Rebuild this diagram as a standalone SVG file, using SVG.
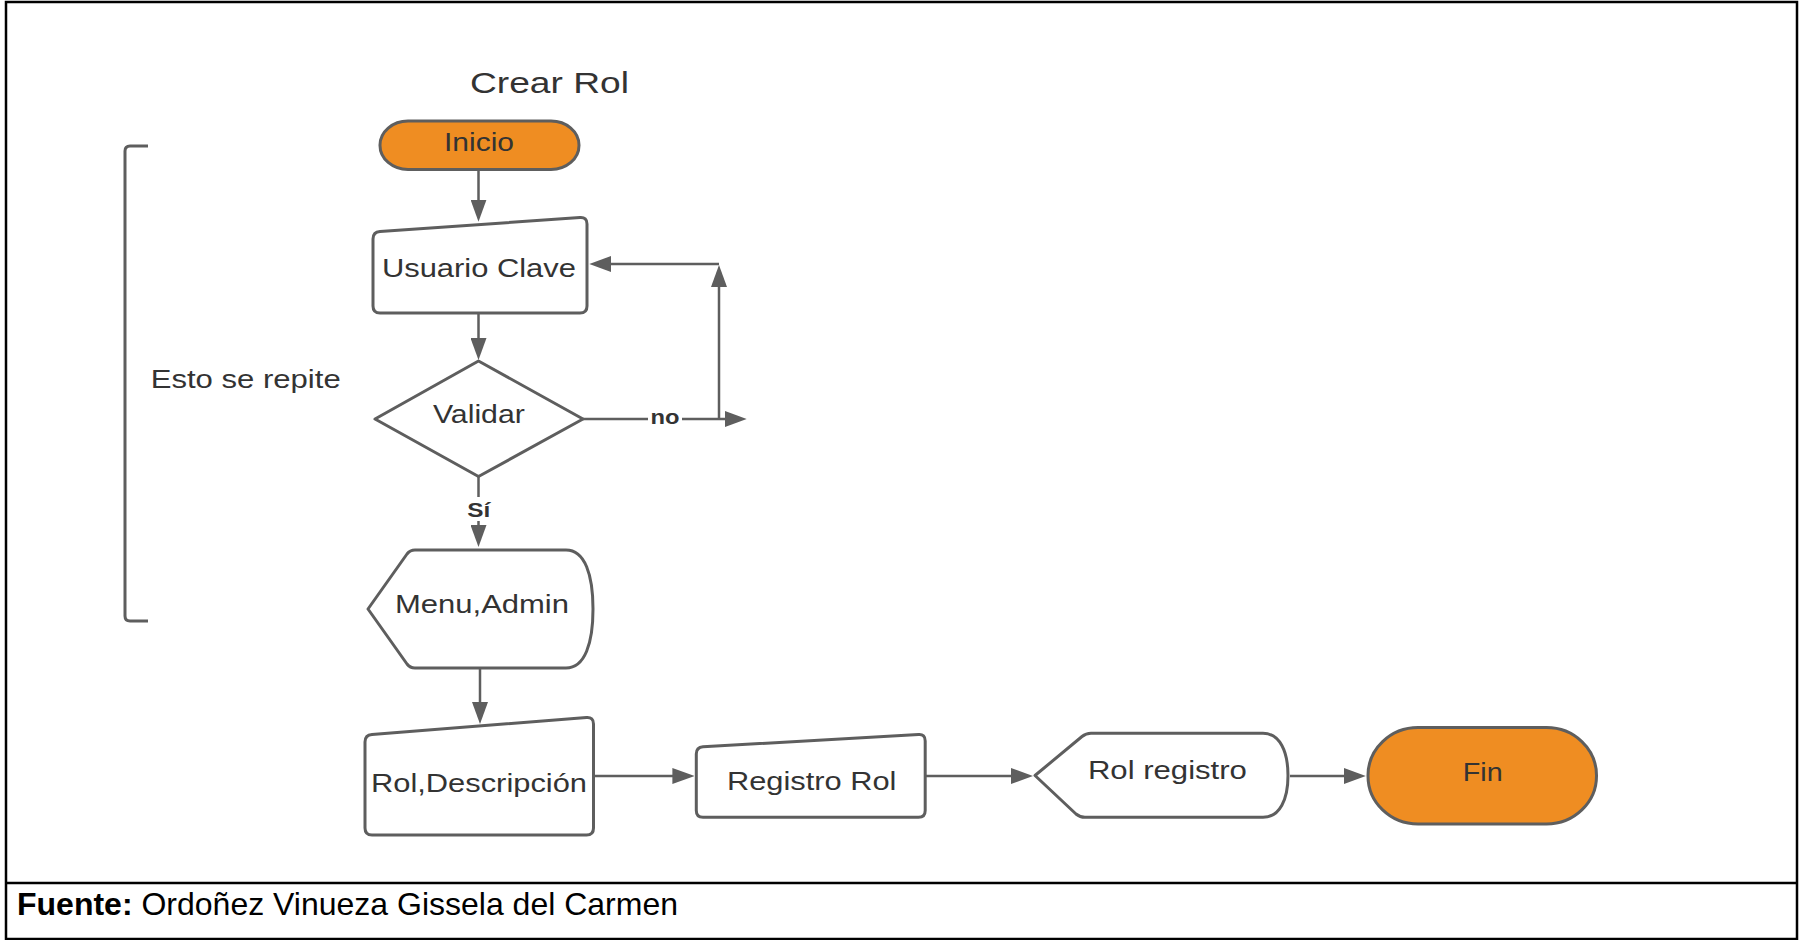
<svg xmlns="http://www.w3.org/2000/svg" width="1801" height="940" viewBox="0 0 1801 940">
<style>
.shape{fill:#ffffff;stroke:#5e5e5e;stroke-width:3;stroke-linejoin:round}
.term{fill:#ef8d22;stroke:#5e5e5e;stroke-width:3}
.lbl{font-family:"Liberation Sans",Arial,sans-serif;font-size:26px;fill:#333333;text-anchor:middle}
.edge{fill:none;stroke:#5e5e5e;stroke-width:2.5}
.elbl{font-family:"Liberation Sans",Arial,sans-serif;font-size:21px;font-weight:bold;fill:#333333;text-anchor:middle}
.frame{fill:none;stroke:#000000;stroke-width:2.5}
</style>
<defs>
<marker id="arr" markerUnits="userSpaceOnUse" markerWidth="22" markerHeight="16" refX="12" refY="8" orient="auto">
<path d="M0,0 L22,8 L0,16 Z" fill="#5e5e5e"/>
</marker>
</defs>
<rect x="0" y="0" width="1801" height="940" fill="#ffffff"/>
<g id="frame">
<rect class="frame" x="6" y="2" width="1791" height="937"/>
<line class="frame" x1="6" y1="883" x2="1797" y2="883"/>
</g>
<g id="footer">
<text x="17" y="915" font-family="'Liberation Sans',Arial,sans-serif" font-size="32" fill="#000000"><tspan font-weight="bold">Fuente:</tspan> Ordoñez Vinueza Gissela del Carmen</text>
</g>
<g id="title">
<text x="470" y="92.7" font-family="'Liberation Sans',Arial,sans-serif" font-size="29" fill="#333333" textLength="159" lengthAdjust="spacingAndGlyphs">Crear Rol</text>
</g>
<g id="bracket">
<path d="M148,146 L130,146 Q125,146 125,151 L125,616 Q125,621 130,621 L148,621" fill="none" stroke="#5e5e5e" stroke-width="3"/>
<text x="150.7" y="388.3" font-family="'Liberation Sans',Arial,sans-serif" font-size="25" fill="#333333" textLength="190" lengthAdjust="spacingAndGlyphs">Esto se repite</text>
</g>
<g id="connectors">
<path class="edge" d="M478.5,170 L478.5,211.7" marker-end="url(#arr)"/>
<path class="edge" d="M478.5,313 L478.5,350" marker-end="url(#arr)"/>
<path class="edge" d="M583,419 L736.7,419" marker-end="url(#arr)"/>
<path class="edge" d="M719,419 L719,275" marker-end="url(#arr)"/>
<path class="edge" d="M719,264 L599.3,264" marker-end="url(#arr)"/>
<path class="edge" d="M478.5,476.5 L478.5,537" marker-end="url(#arr)"/>
<path class="edge" d="M480,668 L480,714" marker-end="url(#arr)"/>
<path class="edge" d="M593.5,776 L684.4,776" marker-end="url(#arr)"/>
<path class="edge" d="M925.2,776 L1023,776" marker-end="url(#arr)"/>
<path class="edge" d="M1290,776 L1355.8,776" marker-end="url(#arr)"/>
<rect x="648" y="406" width="34" height="22" fill="#ffffff"/>
<text class="elbl" x="665" y="423.5" textLength="29" lengthAdjust="spacingAndGlyphs">no</text>
<rect x="465" y="497" width="28" height="24" fill="#ffffff"/>
<text class="elbl" x="478.7" y="516.7" textLength="23" lengthAdjust="spacingAndGlyphs">Sí</text>
</g>
<g id="inicio">
<rect class="term" x="380" y="121" width="199" height="48.5" rx="28" ry="24"/>
<text class="lbl" x="479" y="150.7" textLength="70" lengthAdjust="spacingAndGlyphs">Inicio</text>
</g>
<g id="usuario-clave">
<path class="shape" d="M373,239 Q373,232 380,231.5 L580,217.5 Q587,217 587,224 L587,306 Q587,313 580,313 L380,313 Q373,313 373,306 Z"/>
<text class="lbl" x="478.9" y="276.7" textLength="194" lengthAdjust="spacingAndGlyphs">Usuario Clave</text>
</g>
<g id="validar">
<path class="shape" d="M478.5,361 L583,419 L478.5,476.5 L375,419 Z"/>
<text class="lbl" x="478.9" y="423.3" textLength="92" lengthAdjust="spacingAndGlyphs">Validar</text>
</g>
<g id="menu-admin">
<path class="shape" d="M368,609 L407,554 Q410,550 415,550 L566,550 C585,550 593,575 593,609 C593,643 585,668 566,668 L415,668 Q410,668 407,664 Z"/>
<text class="lbl" x="482" y="613.3" textLength="174" lengthAdjust="spacingAndGlyphs">Menu,Admin</text>
</g>
<g id="rol-descripcion">
<path class="shape" d="M365,742 Q365,735 372,734.5 L586.5,717.5 Q593.5,717 593.5,724 L593.5,828 Q593.5,835 586.5,835 L372,835 Q365,835 365,828 Z"/>
<text class="lbl" x="479" y="791.7" textLength="216" lengthAdjust="spacingAndGlyphs">Rol,Descripción</text>
</g>
<g id="registro-rol">
<path class="shape" d="M696.3,754 Q696.3,747.3 703,746.8 L918.5,734.5 Q925.2,734 925.2,741 L925.2,810.5 Q925.2,817.3 918.5,817.3 L703,817.3 Q696.3,817.3 696.3,810.5 Z"/>
<text class="lbl" x="811.7" y="790" textLength="169.5" lengthAdjust="spacingAndGlyphs">Registro Rol</text>
</g>
<g id="rol-registro">
<path class="shape" d="M1035,775.5 L1082,736.5 Q1086,733.3 1091,733.3 L1263,733.3 C1280,733.3 1288,752 1288,775.5 C1288,799 1280,817.3 1263,817.3 L1085,817.3 Q1080,817.3 1076,814 Z"/>
<text class="lbl" x="1167.4" y="779.3" textLength="159" lengthAdjust="spacingAndGlyphs">Rol registro</text>
</g>
<g id="fin">
<rect class="term" x="1368" y="727.5" width="228.5" height="96.5" rx="50" ry="48"/>
<text class="lbl" x="1482.7" y="781" textLength="40" lengthAdjust="spacingAndGlyphs">Fin</text>
</g>
</svg>
